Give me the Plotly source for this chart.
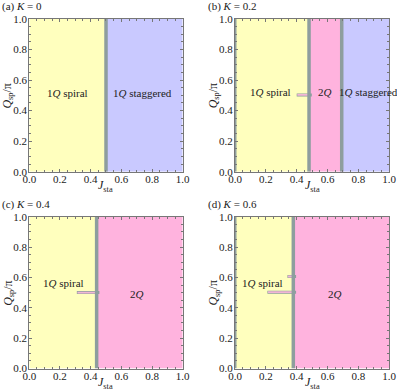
import plotly.graph_objects as go

# phase diagram data, one entry per panel
panel_tags = ["(a)", "(b)", "(c)", "(d)"]
K_values = ["0", "0.2", "0.4", "0.6"]

# phase boundaries along J_sta
boundaries = [
    [0.50],
    [0.48, 0.692],
    [0.439],
    [0.378],
]
phases = [
    ["1Q spiral", "1Q staggered"],
    ["1Q spiral", "2Q", "1Q staggered"],
    ["1Q spiral", "2Q"],
    ["1Q spiral", "2Q"],
]
# label positions (J, Q) for each phase
label_J = [
    [0.25, 0.74],
    [0.23, 0.585, 0.865],
    [0.22, 0.70],
    [0.18, 0.65],
]
label_Q = [
    [0.515, 0.515],
    [0.52, 0.52, 0.52],
    [0.56, 0.49],
    [0.56, 0.49],
]
# short horizontal branches: (Q, J_start, J_end)
spurs = [
    [],
    [(0.503, 0.40, 0.48)],
    [(0.50, 0.31, 0.439)],
    [(0.503, 0.21, 0.378), (0.606, 0.34, 0.378)],
]
edge_line = [False, True, False, True]

phase_color = {
    "1Q spiral": "#FFFFBE",
    "1Q staggered": "#C9C9FF",
    "2Q": "#FFB3DE",
}
line_gray = "#8E9E9E"

x_domains = [[0.0738, 0.4602], [0.592, 0.9804], [0.0738, 0.4602], [0.592, 0.9804]]
y_domains = [[0.5597, 0.9513], [0.5597, 0.9513], [0.0551, 0.4444], [0.0551, 0.4444]]

fig = go.Figure()
annotations = []
font_serif = "Liberation Serif"


def fmt(name):
    return name.replace("Q", "<i>Q</i>")


for i in range(4):
    xa = "x" if i == 0 else f"x{i + 1}"
    ya = "y" if i == 0 else f"y{i + 1}"
    edges = [0.0] + boundaries[i] + [1.0]

    # colored phase regions
    for j, ph in enumerate(phases[i]):
        x0, x1 = edges[j], edges[j + 1]
        fig.add_trace(go.Scatter(
            x=[x0, x1, x1, x0, x0], y=[0, 0, 1, 1, 0],
            fill="toself", fillcolor=phase_color[ph],
            line=dict(width=0), mode="lines",
            xaxis=xa, yaxis=ya, hoverinfo="skip", showlegend=False,
        ))
        annotations.append(dict(
            x=label_J[i][j], y=label_Q[i][j], xref=xa, yref=ya,
            text=fmt(ph), showarrow=False,
            font=dict(family=font_serif, size=11, color="#222"),
        ))

    # spurs (thin gray outline, pink core)
    for q, js, je in spurs[i]:
        fig.add_trace(go.Scatter(
            x=[js, je + 0.018], y=[q, q], mode="lines",
            line=dict(color=line_gray, width=3),
            xaxis=xa, yaxis=ya, hoverinfo="skip", showlegend=False,
        ))
        fig.add_trace(go.Scatter(
            x=[js + 0.004, je], y=[q, q], mode="lines",
            line=dict(color="#F2B6D6", width=1.8),
            xaxis=xa, yaxis=ya, hoverinfo="skip", showlegend=False,
        ))

    # boundary lines
    for b in boundaries[i]:
        fig.add_trace(go.Scatter(
            x=[b, b], y=[0, 1], mode="lines",
            line=dict(color=line_gray, width=3.5),
            xaxis=xa, yaxis=ya, hoverinfo="skip", showlegend=False,
        ))
    if edge_line[i]:
        fig.add_trace(go.Scatter(
            x=[0.003, 0.003], y=[0, 1], mode="lines",
            line=dict(color=line_gray, width=2),
            xaxis=xa, yaxis=ya, hoverinfo="skip", showlegend=False,
        ))

    axis_common = dict(
        range=[0, 1], showgrid=False, zeroline=False, automargin=False,
        showline=True, linecolor="#777", linewidth=1, mirror="ticks",
        ticks="inside", ticklen=3, tickcolor="#777", tickwidth=1,
        tickvals=[0, 0.2, 0.4, 0.6, 0.8, 1.0],
        ticktext=["0.0", "0.2", "0.4", "0.6", "0.8", "1.0"],
        minor=dict(dtick=0.05, ticks="inside", ticklen=2, tickcolor="#777"),
        tickfont=dict(family=font_serif, size=11, color="#222"),
    )
    fig.update_layout(**{
        ("xaxis" if i == 0 else f"xaxis{i + 1}"): dict(
            axis_common, domain=x_domains[i], anchor=ya, ticklabelstandoff=-3),
        ("yaxis" if i == 0 else f"yaxis{i + 1}"): dict(
            axis_common, domain=y_domains[i], anchor=xa, ticklabelstandoff=-1),
    })

    # panel title
    annotations.append(dict(
        x=x_domains[i][0] - 0.0738, y=y_domains[i][1] + 0.031,
        xref="paper", yref="paper", xanchor="left", yanchor="middle",
        text=f"{panel_tags[i]} <i>K</i> = {K_values[i]}", showarrow=False,
        font=dict(family=font_serif, size=11, color="#222"),
    ))
    # axis titles
    annotations.append(dict(
        x=(x_domains[i][0] + x_domains[i][1]) / 2, y=y_domains[i][0] - 0.037,
        xref="paper", yref="paper", xanchor="center", yanchor="middle",
        text="<i>J</i><sub>sta</sub>", showarrow=False,
        font=dict(family=font_serif, size=12, color="#222"),
    ))
    annotations.append(dict(
        x=x_domains[i][0] - 0.053, y=(y_domains[i][0] + y_domains[i][1]) / 2,
        xref="paper", yref="paper", xanchor="center", yanchor="middle",
        text="<i>Q</i><sub>sp</sub>/π", textangle=-90, showarrow=False,
        font=dict(family=font_serif, size=12, color="#222"),
    ))

fig.update_layout(
    width=397, height=390,
    margin=dict(l=0, r=0, t=0, b=0),
    paper_bgcolor="white", plot_bgcolor="white",
    showlegend=False,
    annotations=annotations,
)

fig.write_html(
    "out.html",
    config={"displayModeBar": False},
    post_script="document.body.style.margin='0';document.body.style.overflow='hidden';",
)
